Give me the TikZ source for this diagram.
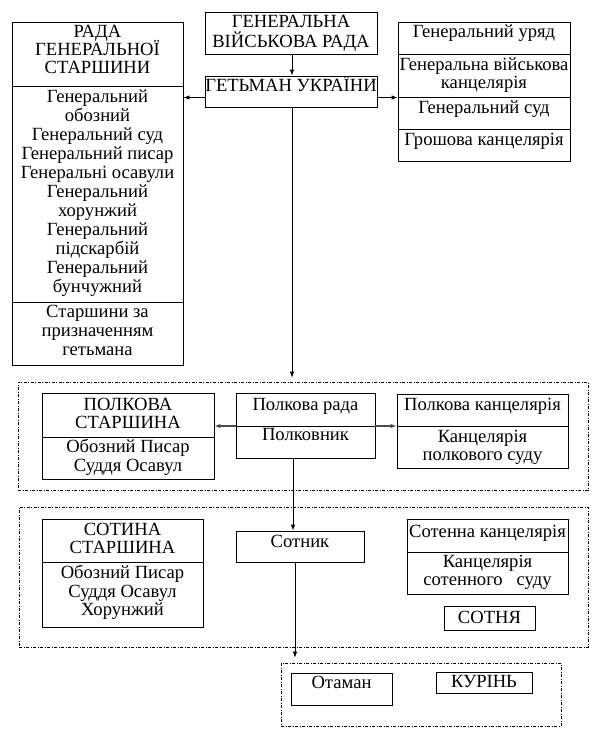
\documentclass[tikz,border=0pt]{standalone}
\usepackage{fontspec}
\setmainfont{Liberation Serif}
\newfontfamily\diagfont{Liberation Serif}
\usetikzlibrary{arrows.meta,fit}
\begin{document}
\begin{tikzpicture}[x=1pt,y=-1pt,
  box/.style={draw, line width=0.8pt, inner sep=0pt},
  dbox/.style={draw, line width=0.7pt, dash pattern=on 3pt off 1.5pt on 1pt off 1.5pt, inner sep=0pt},
  txt/.style={anchor=base, inner sep=0pt, font=\diagfont\fontsize{18.6}{19}\selectfont},
  arr/.style={-{Latex[length=6pt,width=4.5pt]}, line width=0.8pt},
  garr/.style={-{Latex[length=6pt,width=4.5pt]}, line width=1.1pt, draw=black!70, fill=black!70}]
\useasboundingbox (0,0) rectangle (599,745);

% ---------- top level ----------
\node[box, fit={(12,22) (183,365)}] (rada) {};
\draw[line width=0.8pt] (12,86) -- (183,86);
\draw[line width=0.8pt] (12,302) -- (183,302);
\node[txt] (r1) at (97.5,37.5) {РАДА};
\node[txt] (r2) at (97.5,55.5) {ГЕНЕРАЛЬНОЇ};
\node[txt] (r3) at (97.5,73.5) {СТАРШИНИ};
\node[txt] (l1) at (97.5,102.5) {Генеральний};
\node[txt] (l2) at (97.5,121.5) {обозний};
\node[txt] (l3) at (97.5,140.5) {Генеральний суд};
\node[txt] (l4) at (97.5,159.5) {Генеральний писар};
\node[txt] (l5) at (97.5,178.5) {Генеральні осавули};
\node[txt] (l6) at (97.5,197.5) {Генеральний};
\node[txt] (l7) at (97.5,216.5) {хорунжий};
\node[txt] (l8) at (97.5,235.5) {Генеральний};
\node[txt] (l9) at (97.5,254.5) {підскарбій};
\node[txt] (l10) at (97.5,273.5) {Генеральний};
\node[txt] (l11) at (97.5,292.5) {бунчужний};
\node[txt] (s1) at (97.5,317.5) {Старшини за};
\node[txt] (s2) at (97.5,336.5) {призначенням};
\node[txt] (s3) at (97.5,355.5) {гетьмана};

\node[box, fit={(205,12) (377,54)}] (gvr) {};
\node[txt] (g1) at (291,27) {ГЕНЕРАЛЬНА};
\node[txt] (g2) at (291,47) {ВІЙСЬКОВА РАДА};

\node[box, fit={(205,76) (377,107)}] (het) {};
\node[txt] (h1) at (291,91.5) {ГЕТЬМАН УКРАЇНИ};

\node[box, fit={(398,22) (570,161)}] (uryad) {};
\draw[line width=0.8pt] (398,54) -- (570,54);
\draw[line width=0.8pt] (398,97) -- (570,97);
\draw[line width=0.8pt] (398,129) -- (570,129);
\node[txt] (u1) at (484,37.5) {Генеральний уряд};
\node[txt] (u2) at (484,70.5) {Генеральна військова};
\node[txt] (u3) at (484,88.5) {канцелярія};
\node[txt] (u4) at (484,113.5) {Генеральний суд};
\node[txt] (u5) at (484,145.5) {Грошова канцелярія};

% ---------- polk ----------
\node[dbox, fit={(18,382) (588,490)}] (polk) {};
\node[box, fit={(42,393) (214,479)}] (pst) {};
\draw[line width=0.8pt] (42,437) -- (214,437);
\node[txt] (p1) at (128,410.5) {ПОЛКОВА};
\node[txt] (p2) at (128,428.5) {СТАРШИНА};
\node[txt] (p3) at (128,452.5) {Обозний Писар};
\node[txt] (p4) at (128,471.5) {Суддя Осавул};

\node[box, fit={(236,393) (375,458)}] (prada) {};
\draw[line width=0.8pt] (236,426) -- (375,426);
\node[txt] (pr1) at (305.5,410.5) {Полкова рада};
\node[txt] (pr2) at (305.5,440.5) {Полковник};

\node[box, fit={(397,394) (568,468)}] (pkan) {};
\draw[line width=0.8pt] (397,426) -- (568,426);
\node[txt] (pk1) at (482.5,410.5) {Полкова канцелярія};
\node[txt] (pk2) at (482.5,442.5) {Канцелярія};
\node[txt] (pk3) at (482.5,460.5) {полкового суду};

% ---------- sotnia ----------
\node[dbox, fit={(19,507) (588,647)}] (sot) {};
\node[box, fit={(42,519) (203,627)}] (sst) {};
\draw[line width=0.8pt] (42,562) -- (203,562);
\node[txt] (c1) at (122.5,535.5) {СОТИНА};
\node[txt] (c2) at (122.5,553.5) {СТАРШИНА};
\node[txt] (c3) at (122.5,578.5) {Обозний Писар};
\node[txt] (c4) at (122.5,597) {Суддя Осавул};
\node[txt] (c5) at (122.5,615) {Хорунжий};

\node[box, fit={(236,531) (364,562)}] (sotnyk) {};
\node[txt] (st1) at (300,547.5) {Сотник};

\node[box, fit={(407,519) (568,594)}] (skan) {};
\draw[line width=0.8pt] (407,552) -- (568,552);
\node[txt] (sk1) at (487.5,537.5) {Сотенна канцелярія};
\node[txt] (sk2) at (487.5,567.5) {Канцелярія};
\node[txt] (sk3) at (487.5,585.5) {сотенного~~~суду};

\node[box, fit={(444,606) (535,630)}] (sotnya) {};
\node[txt] (sn1) at (489.5,623.5) {СОТНЯ};

% ---------- kurin ----------
\node[dbox, fit={(281,663) (561,726)}] (kur) {};
\node[box, fit={(291,673) (392,705)}] (otaman) {};
\node[txt] (o1) at (341.5,688.5) {Отаман};
\node[box, fit={(436,672) (532,693)}] (kurin) {};
\node[txt] (k1) at (484,687.5) {КУРІНЬ};

% ---------- connectors ----------
\coordinate (xa) at (292,0);
\coordinate (xb) at (293,0);
\coordinate (xc) at (295,0);
\coordinate (yh) at (0,97.5);
\coordinate (yp) at (0,426);

\draw[arr] (gvr.south -| xa) -- (het.north -| xa);
\draw[arr] (het.west |- yh) -- (rada.east |- yh);
\draw[arr] (het.east |- yh) -- (uryad.west |- yh);
\draw[arr, shorten >=4pt] (het.south -| xa) -- (polk.north -| xa);
\draw[garr] (prada.west |- yp) -- (pst.east |- yp);
\draw[garr] (prada.east |- yp) -- (pkan.west |- yp);
\draw[arr] (prada.south -| xb) -- (sotnyk.north -| xb);
\draw[arr, shorten >=5pt] (sotnyk.south -| xc) -- (kur.north -| xc);
\end{tikzpicture}
\end{document}
